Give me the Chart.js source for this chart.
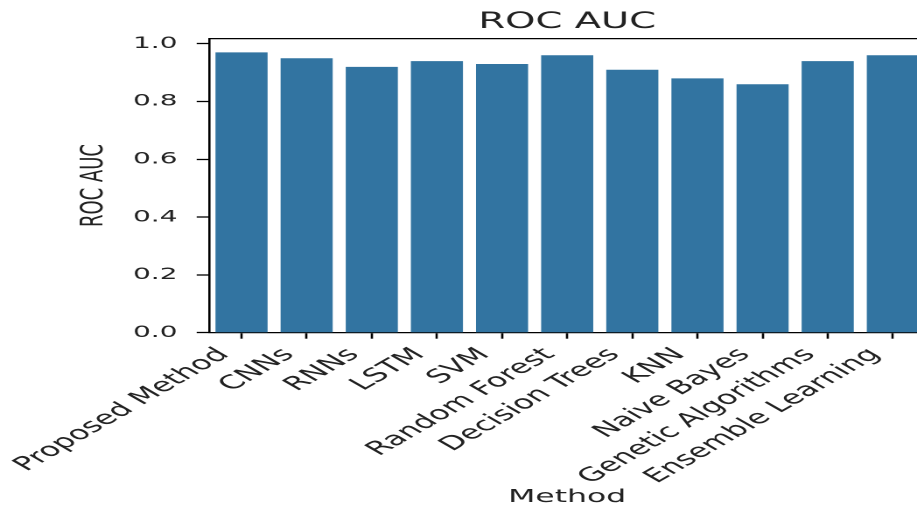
<!DOCTYPE html>
<html><head><meta charset="utf-8">
<script src="https://cdn.jsdelivr.net/npm/chart.js@4/dist/chart.umd.min.js"></script>
<style>
html,body{margin:0;padding:0;background:#fff;overflow:hidden;width:917px;height:508px;}
</style></head><body>
<canvas id="c" width="540" height="508" style="display:block;width:945px;height:508px;"></canvas>
<script>
const categories = ["Proposed Method","CNNs","RNNs","LSTM","SVM","Random Forest","Decision Trees","KNN","Naive Bayes","Genetic Algorithms","Ensemble Learning"];
const rocAuc = [0.97,0.95,0.92,0.94,0.93,0.96,0.91,0.88,0.86,0.94,0.96];
const yTicks = [0.0,0.2,0.4,0.6,0.8,1.0];
const chartTitle = "ROC AUC";
const xTitle = "Method";
const yTitle = "ROC AUC";
const yMax = Math.max(...rocAuc) * 1.05;

Chart.defaults.font.family = "'DejaVu Sans', sans-serif";
Chart.defaults.color = '#222';

new Chart(document.getElementById('c'), {
  type: 'bar',
  data: {
    labels: categories,
    datasets: [{
      label: yTitle,
      data: rocAuc,
      backgroundColor: '#3274a1',
      categoryPercentage: 0.8,
      barPercentage: 1.0
    }]
  },
  options: {
    responsive: false,
    devicePixelRatio: 2,
    animation: false,
    layout: { padding: { left: 0, right: 11.2, top: 0, bottom: 0 } },
    plugins: {
      legend: { display: false },
      tooltip: { enabled: false },
      title: {
        display: true, text: chartTitle, color: '#222', fullSize: false,
        font: { size: 22, weight: 'normal' },
        padding: { top: 9, bottom: 3 }
      }
    },
    scales: {
      x: {
        type: 'category', offset: true,
        grid: { display: true, offset: false, drawOnChartArea: false, drawTicks: true, tickLength: 6, tickColor: '#000', tickWidth: 1.3 },
        border: { display: true, color: '#000', width: 1.3 },
        ticks: { autoSkip: false, minRotation: 45, maxRotation: 45, font: { size: 19 }, color: '#222', padding: 5, labelOffset: -10 },
        title: { display: true, text: xTitle, font: { size: 18 }, color: '#222', padding: { top: 1, bottom: 0 } },
        afterFit: s => { s.height = 175.3; }
      },
      xTop: {
        type: 'category', position: 'top', labels: categories, offset: true,
        grid: { display: false, drawTicks: false },
        ticks: { display: false },
        border: { display: true, color: '#000', width: 1.3 },
        afterFit: s => { s.height = 0; }
      },
      y: {
        min: 0, max: yMax,
        afterBuildTicks: s => { s.ticks = yTicks.map(v => ({ value: v })); },
        grid: { display: true, drawOnChartArea: false, drawTicks: true, tickLength: 7, tickColor: '#000', tickWidth: 1.3 },
        border: { display: true, color: '#000', width: 1.3 },
        ticks: { font: { size: 16 }, color: '#222', padding: 11, callback: v => Number(v).toFixed(1) },
        title: { display: true, text: yTitle, font: { size: 18 }, color: '#222', padding: { top: 43, bottom: 0 } },
        afterFit: s => { s.width = 119.4; }
      }
    }
  }
});
</script>
</body></html>
